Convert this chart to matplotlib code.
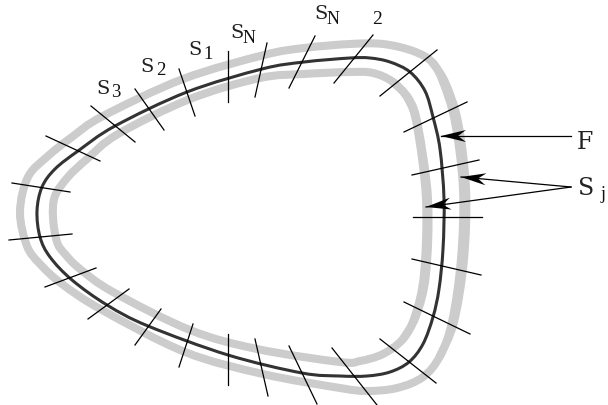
import numpy as np
import matplotlib
matplotlib.use("Agg")
import matplotlib.pyplot as plt
from matplotlib.path import Path
from matplotlib.patches import PathPatch, Polygon

# everything, in pixels (y downwards)
centre = [(37,212),(42,188),(55,170),(78,152),(115,127),(187,93),(262,70),(304,63),(350,59),(370,59),
          (390,63),(410,73),(425,92),(433,118),(440,150),(444,200),(443,250),(439,290),(433,318),(423,345),
          (409,363),(390,373),(367,377),(340,377),(302,374),(228,356),(148,327),(107,306),(72,281),(50,258),
          (40,238)]
outer = [(20,213),(28,178),(48,157),(72,138),(103,117),(183,80),(264,56),(304,49),(350,45),(383,45),
         (413,52),(432,63),(443,83),(455,123),(463,190),(461,260),(452,323),(440,357),(423,378),(397,389),
         (367,392),(340,389),(263,375),(185,353),(102,311),(62,285),(40,265),(27,247)]
inner = [(53,218),(55,197),(68,178),(87,160),(118,135),(190,100),(260,79),(304,75),(350,73),(373,74),
         (393,83),(408,100),(417,127),(426,200),(424,275),(415,317),(403,340),(383,355),(360,362),(340,363),
         (257,350),(190,331),(113,293),(80,270),(65,255),(57,243)]
# the right hand side of the grey bands is thicker, these run beside the bands
outer_right = [(432,63),(445,83),(458,123),(466,190),(464,260),(454,323),(440,357)]
inner_right = [(393,83),(409,100),(418,127),(428,200),(426,275),(416,317),(403,340)]
ticks = [((12,184),(70,193)),((46,137),(100,162)),((91,107),(135,143)),((135,90),(164,131)),
         ((179,70),(195,117)),((228,52),(228,103)),((267,44),(255,98)),((289,89),(315,37)),
         ((373,36),(334,84)),((437,51),(380,97)),((467,103),(404,133)),((479,161),(412,176)),
         ((413,218),(482,218)),((412,260),(481,276)),((404,303),(470,335)),((380,340),(436,384)),
         ((332,349),(377,406)),((289,347),(317,405)),((255,340),(268,397)),((228,335),(228,386)),
         ((193,325),(179,368)),((161,310),(135,346)),((129,290),(88,320)),((96,269),(45,288)),
         ((72,235),(9,241))]
arrows = [((571,137),(441,137)),((571,188),(461,178)),((571,188),(426,208))]
big_s = [("S",96,94,14),("S",140,72,14),("S",188,55,14),("S",230,38,14),("S",314,19,14),
         ("F",577,149,17),("S",578,195,17)]
subs = [("3",111,97,13.5),("2",156,75,13.5),("1",203,59,13.5),("N",243,43,13),("N",327,24,13),
        ("2",372,24,14),("j",601,199,13)]


def smooth_curve(points, closed=True):
    pts = np.array(points, dtype=float)
    n = len(pts)
    verts = [pts[0]]
    codes = [Path.MOVETO]
    for i in range(n if closed else n-1):
        if closed:
            p0, p1, p2, p3 = pts[i-1], pts[i], pts[(i+1) % n], pts[(i+2) % n]
        else:
            p0, p1, p2, p3 = pts[max(i-1, 0)], pts[i], pts[i+1], pts[min(i+2, n-1)]
        verts += [p1 + (p2-p0)/6, p2 - (p3-p1)/6, p2]
        codes += [Path.CURVE4]*3
    return Path(verts, codes)


def arrow_head(tail, tip, length=25, width=12, notch=17):
    tail = np.array(tail, dtype=float)
    tip = np.array(tip, dtype=float)
    d = (tip-tail)/np.linalg.norm(tip-tail)
    n = np.array([-d[1], d[0]])
    return [tip, tip-d*length+n*width/2, tip-d*notch, tip-d*length-n*width/2]


fig = plt.figure(figsize=(6.08, 4.06), dpi=100)
ax = fig.add_axes([0, 0, 1, 1])
ax.set_xlim(0, 608)
ax.set_ylim(406, 0)
ax.axis("off")

for curve in (outer, inner):
    ax.add_patch(PathPatch(smooth_curve(curve), fc="none", ec="#cccccc", lw=5.8))
for curve in (outer_right, inner_right):
    ax.add_patch(PathPatch(smooth_curve(curve, closed=False), fc="none", ec="#cccccc", lw=5.8, capstyle="round"))
ax.add_patch(PathPatch(smooth_curve(centre), fc="none", ec="#333333", lw=2.2))

for a, b in ticks:
    ax.plot([a[0], b[0]], [a[1], b[1]], color="black", lw=0.9)

for tail, tip in arrows:
    ax.plot([tail[0], tip[0]], [tail[1], tip[1]], color="black", lw=0.9)
    ax.add_patch(Polygon(arrow_head(tail, tip), fc="black", ec="none"))

for s, x, y, size in big_s:
    ax.text(x, y, s, fontsize=size, family="DejaVu Serif", ha="left", va="baseline", color="#222222")
for s, x, y, size in subs:
    ax.text(x, y, s, fontsize=size, family="Liberation Serif", ha="left", va="baseline", color="#111111")

fig.savefig("out.png", dpi=100)
